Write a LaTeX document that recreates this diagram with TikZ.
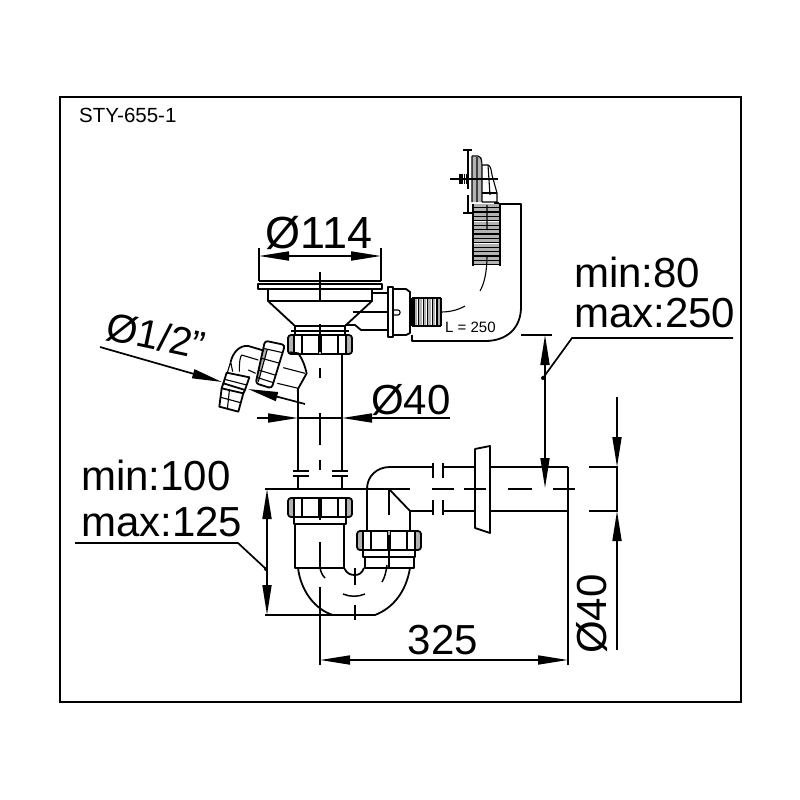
\documentclass[tikz,border=0pt]{standalone}
\usepackage{fontspec}
\setmainfont{Liberation Sans}
\usetikzlibrary{arrows.meta}
\tikzset{
  part/.style={draw=black,line width=1.8pt,line join=round},
  fine/.style={draw=black,line width=1.1pt,line join=round},
  centre/.style={draw=black,line width=1.5pt},
  dimline/.style={draw=black,line width=1.7pt},
  both/.style={dimline,{Triangle[length=30pt,width=9pt]}-{Triangle[length=30pt,width=9pt]}},
  tip/.style={dimline,-{Triangle[length=30pt,width=9pt]}},
  big/.style={inner sep=0pt,font=\fontsize{42}{42}\selectfont},
  nutpic/.pic={
    \fill[gray!60,rounded corners=3pt] (0,0) rectangle (6,19);
    \fill[gray!60,rounded corners=3pt] (58,0) rectangle (64,19);
    \draw[part,rounded corners=3pt] (0,0) rectangle (64,19);
    \foreach \v in {6,14,50,58}{\draw[fine] (\v,0)--(\v,19);}
    \fill[gray!60] (30.5,0) rectangle (33.5,19);
    \draw[fine] (30.5,0)--(30.5,19) (33.5,0)--(33.5,19);
  }
}
\begin{document}
\begin{tikzpicture}[x=1pt,y=-1pt]
\useasboundingbox (0,0) rectangle (800,800);
\fill[white] (0,0) rectangle (800,800);
\draw[line width=1.6pt] (60,97) rectangle (741,702);

% strainer
\draw[part,line width=2.2pt] (259,281)--(381,281);
\draw[part] (258,284) rectangle (382,289);
\draw[part] (268,289)--(268,301)--(295,326)--(295,334) (372,289)--(372,301)--(345,326)--(345,334);
\draw[part] (268,301)--(372,301) (295,326)--(345,326);
\draw[part] (291,331)--(349,331);
\pic at (288,335) {nutpic};
% overflow connector
\draw[part] (372,293)--(388,293) (353,312)--(388,312) (345,325)--(355,325)--(361,330)--(388,330);
\draw[part] (388,287) rectangle (393,337);
\draw[part] (393,289)--(406,289)--(410,292)--(410,333)--(406,335)--(393,335);
\draw[fine,rounded corners=2pt] (393,310)--(400,310)--(400,315)--(393,315);
\draw[line width=3pt] (411,298)--(411,326);
\foreach \k in {0,...,5}{
  \fill[gray!60] (414+\k*4.6,298) rectangle (417+\k*4.6,326);
  \draw[fine] (414+\k*4.6,298)--(414+\k*4.6,326);
}
\draw[fine] (441,298)--(441,326);
\draw[fine] (412,298)--(441,298) (412,326)--(441,326);
\draw[part] (412,335)--(412,341)--(485,341) .. controls (507,341) and (521,328) .. (521,307)--(521,204)--(499,204);
% hose and overflow plate
\foreach \k in {0,...,13}{
  \fill[gray!60] (473,204+\k*4.4) rectangle (500,207+\k*4.4);
  \draw[line width=1.3pt,line cap=round] (473,207.6+\k*4.4)--(500,207.6+\k*4.4);
}
\draw[fine] (473,204)--(473,266) (500,204)--(500,266);
\draw[fine] (487,205)--(487,230) (487,255) .. controls (487,270) and (485,282) .. (480,291);
\draw[fine] (441,312) .. controls (450,312) and (458,310) .. (465,306);
\draw[line width=2.4pt] (468,150)--(468,189) (468,195)--(468,213);
\draw[line width=1.6pt] (463,150)--(472,150) (463,213)--(472,213);
\fill[gray!60] (472,157) rectangle (482,202);
\draw[fine] (472,156)--(478,156) .. controls (481,157) and (482,160) .. (482,166)--(482,202) (472,156)--(472,202) (477,157)--(477,202);
\draw[fine] (482,165)--(488,165) .. controls (491,166) and (491,170) .. (492,175)--(497,193)--(497,202)--(482,202);
\draw[fine] (488,165)--(490,195);
\draw[fine] (482,193)--(497,193);
\draw[line width=1.2pt] (450,179)--(498,179);
\foreach \k in {0,...,3}{\draw[line width=1.6pt] (460+\k*2.2,174)--(460+\k*2.2,184);}
\draw[line width=2.5pt] (494,203)--(499,203);
\node[inner sep=0pt,anchor=west,font=\fontsize{15}{15}\selectfont] (hoselen) at (445,327) {L = 250};

% vertical waste pipe
\draw[part] (342,354)--(342,471) (342,477)--(342,489) (298,388)--(298,471) (298,477)--(298,489);
\draw[part] (293,471)--(309,471) (293,476)--(309,476) (332,471)--(348,471) (332,476)--(348,476);
\pic at (288,498) {nutpic};
\draw[part] (294,517)--(294,524)--(346,524)--(346,517);
\draw[part] (295,524)--(295,568)--(344,568)--(344,524);
\draw[part] (344,568) .. controls (347,574) and (351,575) .. (355,575) .. controls (359,575) and (362,573) .. (364,568);
\pic at (357,531) {nutpic};
\draw[part] (363,550)--(363,557)--(415,557)--(415,550);
\draw[part] (365,557)--(365,568)--(414,568)--(414,557);
\draw[part] (298,568) .. controls (301,592) and (316,610) .. (333,615)--(375,615) .. controls (393,608) and (406,592) .. (410,568);
% outlet
\draw[part] (367,531)--(367,489) .. controls (367,476) and (377,467) .. (390,467)--(433,467);
\draw[part] (410,531)--(410,511)--(433,511) (389,489)--(410,511);
\draw[part] (433,463)--(433,478) (443,463)--(443,478) (433,500)--(433,515) (443,500)--(443,515);
\draw[part] (443,467)--(475,467) (443,511)--(475,511);
\draw[part] (475,449)--(490,446)--(490,533)--(475,528)--cycle;
\draw[part] (490,467)--(568,467) (490,511)--(568,511);
\draw[part] (568,467)--(568,665);
\draw[dimline] (589,467)--(617,467)--(617,511)--(589,511);

% side branch, drawn in zoomed coordinates
\begin{scope}[shift={(190,320)},scale=0.3333]
\draw[part] (300,97)--(325,100) .. controls (338,118) and (345,138) .. (350,160)--(325,205)--(323,215);
\draw[fine] (280,143)--(345,160) (262,190)--(325,205);
\fill[gray!60] (222,85)--(232,88)--(205,185)--(197,182)--cycle;
\draw[part,rounded corners=3pt] (225,62)--(285,75)--(245,205)--(197,190)--cycle;
\draw[fine] (220,85)--(278,98) (215,115)--(270,130) (205,150)--(255,165) (200,172)--(250,188) (232,88)--(205,185);
\draw[part] (122,125) .. controls (130,95) and (150,75) .. (175,78)--(222,92);
\draw[fine] (155,105)--(205,120) (155,105) .. controls (150,112) and (148,125) .. (148,155);
\draw[fine] (175,150)--(197,160) (128,155)--(122,125)--(112,158);
\draw[part] (110,158)--(178,172)--(165,210)--(100,190)--cycle;
\draw[fine] (104,178)--(170,195);
\draw[part] (100,190)--(95,205)--(160,220)--(165,210);
\draw[part] (95,205)--(88,260)--(145,275)--(160,220);
\draw[fine] (118,212)--(112,268) (92,232)--(152,248);
\end{scope}

% centre lines
\draw[centre] (320,272)--(320,301) (320,324)--(320,352) (320,368)--(320,378) (320,413)--(320,445) (320,460)--(320,470) (320,498)--(320,520) (320,542)--(320,568) (320,587)--(320,665);
\draw[centre] (389,489)--(389,515) (389,535)--(389,567);
\draw[centre] (320,568) .. controls (321,572) and (322,575) .. (325,578);
\draw[centre] (343,594) .. controls (350,597) and (358,597) .. (365,594);
\draw[centre] (387,565) .. controls (386,572) and (385,577) .. (382,582);
\draw[centre] (355,568)--(355,585) (355,605)--(355,620);
\draw[centre] (432,489)--(454,489) (464,489)--(486,489) (508,489)--(532,489) (553,489)--(575,489);

% dimensions
\coordinate (a114l) at (259,256);
\coordinate (a114r) at (381,256);
\draw[both] (a114l)--(a114r);
\draw[dimline] (259,248)--(259,281) (381,248)--(381,281);
\node[big,font=\fontsize{45}{45}\selectfont] (d114) at (319,233) {Ø114};

\coordinate (d40a) at (257,418);
\coordinate (d40b) at (298,418);
\coordinate (d40c) at (342,418);
\coordinate (d40d) at (450,418);
\draw[tip] (d40a)--(d40b);
\draw[tip] (d40d)--(d40c);
\draw[dimline] (d40b)--(d40c);
\node[big] (d40n) at (411,400) {Ø40};

\coordinate (b1) at (100,347);
\coordinate (b2) at (222,382);
\coordinate (b3) at (305,404);
\coordinate (b4) at (248,389);
\draw[tip] (b1)--(b2);
\draw[tip] (b3)--(b4);
\node[big,font=\fontsize{40}{40}\selectfont,rotate=-12] (dhalf) at (156,336) {Ø1/2"};

\coordinate (v1) at (545,335);
\coordinate (v2) at (545,488);
\draw[both] (v1)--(v2);
\draw[dimline] (521,335)--(552,335);
\fill (543,378) circle (2);
\draw[dimline] (543,378)--(572,338)--(733,338);
\node[big,anchor=west] (minA) at (574,272) {min:80};
\node[big,anchor=west] (maxA) at (574,313) {max:250};

\coordinate (o1) at (617,397);
\coordinate (o2) at (617,467);
\coordinate (o3) at (617,650);
\coordinate (o4) at (617,511);
\draw[tip] (o1)--(o2);
\draw[tip] (o3)--(o4);
\node[big,rotate=90] (d40v) at (592,614) {Ø40};

\coordinate (s1) at (320,660);
\coordinate (s2) at (568,660);
\draw[both] (s1)--(s2);
\node[big] (d325) at (443,640) {325};

\coordinate (h1) at (267,489);
\coordinate (h2) at (267,615);
\draw[both] (h1)--(h2);
\draw[dimline] (265,489)--(410,489) (265,615)--(333,615);
\fill (266,569) circle (2);
\draw[dimline] (75,543)--(238,543)--(266,569);
\node[big,anchor=west] (minB) at (81,475) {min:100};
\node[big,anchor=west] (maxB) at (81,522) {max:125};

\node[inner sep=0pt,anchor=west,font=\fontsize{20.5}{20.5}\selectfont] (model) at (79,115) {STY-655-1};
\end{tikzpicture}
\end{document}
